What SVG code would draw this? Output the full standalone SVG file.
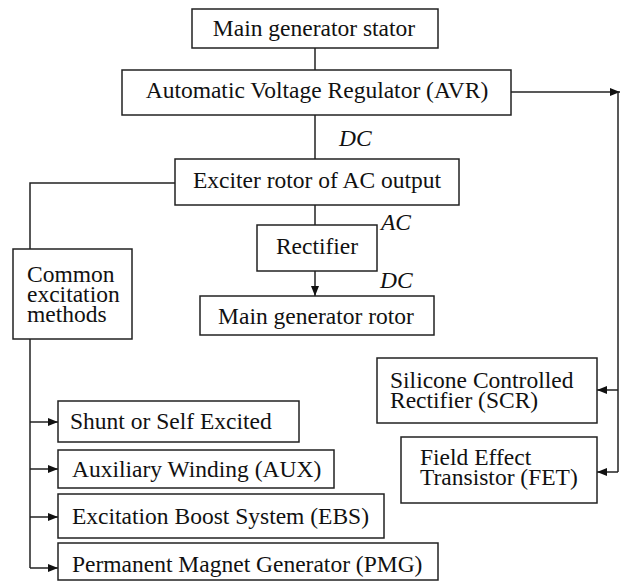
<svg xmlns="http://www.w3.org/2000/svg" width="627" height="585" viewBox="0 0 627 585">
<style>
rect{fill:#fff;stroke:#222;stroke-width:1.5}
text{font-family:'Liberation Serif','Times New Roman',serif;font-size:23.5px;fill:#111}
.c{text-anchor:middle}
.i{font-style:italic}
#conn path{fill:none;stroke:#222;stroke-width:1.5}
</style>
<defs>
<marker id="ah" viewBox="0 0 10 10" refX="10" refY="5" markerWidth="10" markerHeight="10" markerUnits="userSpaceOnUse" orient="auto">
<path d="M0,1 L10,5 L0,9 z" fill="#111"/>
</marker>
</defs>
<g id="conn">
<path d="M315,48 V70"/>
<path d="M315,115 V159"/>
<path d="M315,205 V225"/>
<path d="M315,271 V296" marker-end="url(#ah)"/>
<path d="M511,92 H620" marker-end="url(#ah)"/>
<path d="M618,92 V472"/>
<path d="M618,390 H597" marker-end="url(#ah)"/>
<path d="M618,472 H597" marker-end="url(#ah)"/>
<path d="M175,183 H30 V249"/>
<path d="M30,339 V568"/>
<path d="M30,422 H58" marker-end="url(#ah)"/>
<path d="M30,469 H58" marker-end="url(#ah)"/>
<path d="M30,517 H58" marker-end="url(#ah)"/>
<path d="M30,568 H58" marker-end="url(#ah)"/>
</g>
<g id="stator"><rect x="192" y="9" width="246" height="39"/><text class="c" x="314" y="36">Main generator stator</text></g>
<g id="avr"><rect x="122" y="70" width="389" height="45"/><text class="c" x="317" y="98">Automatic Voltage Regulator (AVR)</text></g>
<text class="i" x="339" y="146">DC</text>
<g id="exciter"><rect x="175" y="159" width="284" height="46"/><text class="c" x="317" y="188">Exciter rotor of AC output</text></g>
<g id="rectifier"><rect x="257" y="225" width="120" height="46"/><text class="c" x="317" y="254">Rectifier</text></g>
<text class="i" x="381" y="230">AC</text>
<text class="i" x="380" y="288">DC</text>
<g id="rotor"><rect x="200" y="296" width="234" height="39"/><text class="c" x="316" y="324">Main generator rotor</text></g>
<g id="common"><rect x="13" y="249" width="119" height="90"/><text x="27" y="282">Common</text><text x="27" y="302">excitation</text><text x="27" y="322">methods</text></g>
<g id="scr"><rect x="377" y="358" width="220" height="65"/><text x="390" y="388">Silicone Controlled</text><text x="390" y="408">Rectifier (SCR)</text></g>
<g id="fet"><rect x="401" y="437" width="196" height="66"/><text x="420" y="465">Field Effect</text><text x="420" y="485">Transistor (FET)</text></g>
<g id="shunt"><rect x="58" y="401" width="241" height="41"/><text x="70" y="429">Shunt or Self Excited</text></g>
<g id="aux"><rect x="58" y="450" width="276" height="38"/><text x="72" y="477">Auxiliary Winding (AUX)</text></g>
<g id="ebs"><rect x="58" y="494" width="326" height="44"/><text x="72" y="524">Excitation Boost System (EBS)</text></g>
<g id="pmg"><rect x="58" y="543" width="380" height="37"/><text x="72" y="572">Permanent Magnet Generator (PMG)</text></g>
</svg>
